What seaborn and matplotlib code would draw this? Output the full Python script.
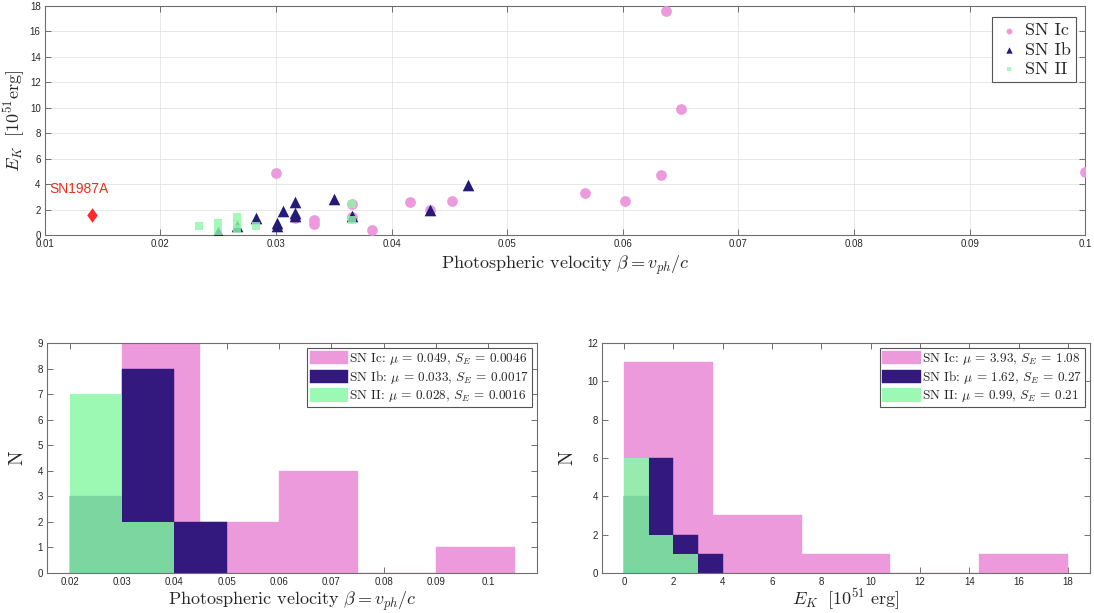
import numpy as np
import pandas as pd
import matplotlib
matplotlib.use("Agg")
import matplotlib.pyplot as plt
import seaborn as sns

# ---------------- data ----------------
ic_beta = [0.0300, 0.0366, 0.0316, 0.0333, 0.0333, 0.0383, 0.0416, 0.0433,
           0.0452, 0.0366, 0.0637, 0.0650, 0.0633, 0.0567, 0.0602, 0.1000]
ic_ek = [4.9, 2.45, 1.35, 1.15, 0.9, 0.42, 2.6, 2.0,
         2.7, 1.4, 17.57, 9.9, 4.7, 3.29, 2.69, 4.93]

ib_beta = [0.0250, 0.0266, 0.0283, 0.0301, 0.0301, 0.0306, 0.0316, 0.0316,
           0.0316, 0.0350, 0.0366, 0.0433, 0.0466]
ib_ek = [0.24, 0.68, 1.33, 0.95, 0.68, 1.9, 2.6, 1.72,
         1.46, 2.82, 1.46, 1.95, 3.94]

ii_beta = [0.0233, 0.0250, 0.0250, 0.0266, 0.0266, 0.0266, 0.0283, 0.0366, 0.0366]
ii_ek = [0.7, 0.95, 0.35, 1.4, 0.9, 0.45, 0.7, 2.4, 1.15]

sn87_beta = [0.0141]
sn87_ek = [1.6]

ic_beta_bins = np.linspace(0.03, 0.105, 6)
ib_beta_bins = np.linspace(0.02, 0.05, 4)
ii_beta_bins = np.linspace(0.02, 0.04, 3)
ic_ek_bins = np.linspace(0, 18, 6)
ib_ek_bins = np.linspace(0, 4, 5)
ii_ek_bins = np.linspace(0, 3, 4)

labels = ["SN Ic", "SN Ib", "SN II"]
beta_legend = [r"SN Ic: $\mu$ = 0.049, $S_E$ = 0.0046",
               r"SN Ib: $\mu$ = 0.033, $S_E$ = 0.0017",
               r"SN II: $\mu$ = 0.028, $S_E$ = 0.0016"]
ek_legend = [r"SN Ic: $\mu$ = 3.93, $S_E$ = 1.08",
             r"SN Ib: $\mu$ = 1.62, $S_E$ = 0.27",
             r"SN II: $\mu$ = 0.99, $S_E$ = 0.21"]

# ---------------- style ----------------
sns.set_theme(style="white")
plt.rcParams["font.family"] = ["Liberation Sans", "DejaVu Sans"]
plt.rcParams["mathtext.fontset"] = "cm"
SERIF = "cmr10"

pink = "#EC9ADC"
navy = "#33197D"
green = "#8AF9A7"
tri_col = "#241A78"
sq_col = "#8EF7A9"
spine_col = "#6e6e6e"
tick_col = "#262626"

fig = plt.figure(figsize=(10.94, 6.13), dpi=100)
ax0 = fig.add_axes([0.041, 0.6166, 0.951, 0.3736])
ax1 = fig.add_axes([0.043, 0.0653, 0.448, 0.3752])
ax2 = fig.add_axes([0.5503, 0.0653, 0.446, 0.3752])


def style_axes(ax):
    for s in ax.spines.values():
        s.set_color(spine_col)
        s.set_linewidth(0.8)
    ax.tick_params(direction="in", length=4, width=0.7, colors=spine_col,
                   labelcolor=tick_col, labelsize=7, top=True, right=True,
                   bottom=True, left=True, pad=3)


# ---------------- top scatter ----------------
df_ic = pd.DataFrame({"beta": ic_beta, "ek": ic_ek})
df_ib = pd.DataFrame({"beta": ib_beta, "ek": ib_ek})
df_ii = pd.DataFrame({"beta": ii_beta, "ek": ii_ek})
sns.scatterplot(data=df_ic, x="beta", y="ek", ax=ax0, color=pink, marker="o",
                s=60, linewidth=0, label=labels[0], zorder=3)
sns.scatterplot(data=df_ib, x="beta", y="ek", ax=ax0, color=tri_col, marker="^",
                s=70, linewidth=0, label=labels[1], zorder=4)
sns.scatterplot(data=df_ii, x="beta", y="ek", ax=ax0, color=sq_col, marker="s",
                s=34, linewidth=0, alpha=0.8, label=labels[2], zorder=5)
diamond = [(0, 1), (0.72, 0), (0, -1), (-0.72, 0), (0, 1)]
sns.scatterplot(x=sn87_beta, y=sn87_ek, ax=ax0, color="#FF2A2A", marker=diamond,
                s=110, linewidth=0, zorder=6, legend=False)
ax0.text(sn87_beta[0] - 0.0037, sn87_ek[0] + 1.5, "SN1987A", color="#E8301C",
         fontsize=10, ha="left", va="bottom")

ax0.set_xlim(0.01, 0.1)
ax0.set_ylim(0, 18)
ax0.set_xticks(np.arange(0.01, 0.1001, 0.01))
ax0.set_xticklabels(["0.01", "0.02", "0.03", "0.04", "0.05", "0.06", "0.07",
                     "0.08", "0.09", "0.1"])
ax0.set_yticks(np.arange(0, 19, 2))
ax0.grid(True, color="#e4e4e4", linewidth=0.6)
ax0.set_axisbelow(True)
style_axes(ax0)
ax0.set_xlabel(r"Photospheric velocity $\beta = v_{ph}/c$", fontfamily=SERIF,
               fontsize=13, labelpad=3)
ax0.set_ylabel(r"$E_K\ \ [10^{51}\mathrm{erg}]$", fontsize=13, labelpad=2)
leg0 = ax0.legend(loc="upper right", prop={"family": SERIF, "size": 13},
                  markerscale=0.55, handletextpad=0.3, borderpad=0.3,
                  labelspacing=0.2, handlelength=1.2, fancybox=False,
                  framealpha=1, bbox_to_anchor=(1.0, 0.99))
leg0.get_frame().set_edgecolor("#555555")
leg0.get_frame().set_linewidth(0.8)

# ---------------- histograms ----------------
def draw_hists(ax, ic, ib, ii, bins_ic, bins_ib, bins_ii, leg_labels):
    sns.histplot(x=ic, bins=bins_ic, ax=ax, color=pink, alpha=1.0,
                 linewidth=0.3, edgecolor=pink)
    sns.histplot(x=ib, bins=bins_ib, ax=ax, color=navy, alpha=1.0,
                 linewidth=0.3, edgecolor=navy)
    sns.histplot(x=ii, bins=bins_ii, ax=ax, color=green, alpha=0.85,
                 linewidth=0.0)
    style_axes(ax)
    leg = ax.legend(ax.containers, leg_labels, loc="upper right",
                    prop={"family": SERIF, "size": 9.5}, handlelength=2.9,
                    handleheight=1.2, handletextpad=0.1, borderpad=0.2,
                    labelspacing=0.15, fancybox=False, framealpha=1,
                    borderaxespad=0.4)
    leg.get_frame().set_edgecolor("#555555")
    leg.get_frame().set_linewidth(0.8)
    ax.set_ylabel("N", fontfamily=SERIF, fontsize=14, labelpad=8)


draw_hists(ax1, ic_beta, ib_beta, ii_beta, ic_beta_bins, ib_beta_bins,
           ii_beta_bins, beta_legend)
ax1.set_xlim(0.0157, 0.1093)
ax1.set_ylim(0, 9)
ax1.set_xticks(np.arange(0.02, 0.1001, 0.01))
ax1.set_xticklabels(["0.02", "0.03", "0.04", "0.05", "0.06", "0.07", "0.08",
                     "0.09", "0.1"])
ax1.set_yticks(np.arange(0, 10, 1))
ax1.set_xlabel(r"Photospheric velocity $\beta = v_{ph}/c$", fontfamily=SERIF,
               fontsize=13, labelpad=2)

draw_hists(ax2, ic_ek, ib_ek, ii_ek, ic_ek_bins, ib_ek_bins, ii_ek_bins,
           ek_legend)
ax2.set_xlim(-0.89, 18.89)
ax2.set_ylim(0, 12)
ax2.set_xticks(np.arange(0, 19, 2))
ax2.set_yticks(np.arange(0, 13, 2))
ax2.set_xlabel(r"$E_K\ \ [10^{51}\ \mathrm{erg}]$", fontsize=13, labelpad=0)

fig.savefig("out.png", dpi=100)
